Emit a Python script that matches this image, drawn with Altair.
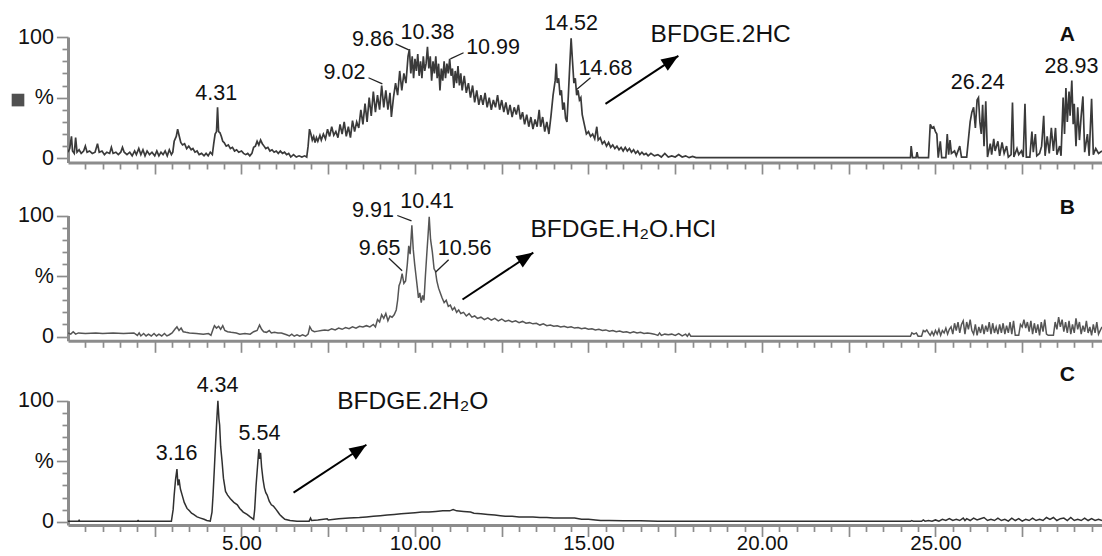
import altair as alt
import pandas as pd

FONT = "Liberation Sans"

# ---- chromatogram traces: (retention time [min], relative intensity [%]) ----
trace_A = [
(0.00,5),(0.05,8),(0.10,18),(0.13,6),(0.18,4),(0.22,17),(0.26,5),(0.32,7),(0.38,4),(0.45,6),(0.50,10),(0.55,5),(0.62,6),(0.70,4),(0.78,5),(0.85,12),(0.90,5),(0.98,6),(1.05,3),(1.12,5),(1.20,4),(1.25,9),(1.30,4),(1.38,5),(1.45,3),(1.52,5),(1.57,9),(1.62,5),(1.70,3),(1.78,5),(1.85,2),(1.92,6),(1.97,3),(2.04,8),(2.10,3),(2.16,7),(2.22,2),(2.28,6),(2.35,3),(2.42,5),(2.50,2),(2.56,6),(2.62,2),(2.68,5),(2.74,3),(2.80,6),(2.86,2),(2.92,7),(2.98,3),(3.02,5),(3.06,14),(3.12,18),(3.16,24),(3.20,19),(3.25,13),(3.30,11),(3.36,12),(3.42,8),(3.48,10),(3.55,7),(3.60,8),(3.66,5),(3.72,6),(3.78,3),(3.85,4),(3.92,2),(3.98,4),(4.04,2),(4.10,5),(4.16,3),(4.20,12),(4.24,20),(4.28,22),(4.31,42),(4.34,22),(4.38,21),(4.42,18),(4.46,14),(4.50,13),(4.56,10),(4.62,11),(4.68,8),(4.74,9),(4.80,6),(4.86,7),(4.92,5),(5.00,6),(5.06,4),(5.12,3),(5.18,4),(5.24,2),(5.30,4),(5.35,9),(5.40,10),(5.45,14),(5.50,11),(5.55,15),(5.60,12),(5.65,10),(5.70,8),(5.76,9),(5.82,6),(5.88,7),(5.94,5),(6.00,6),(6.06,4),(6.12,6),(6.18,4),(6.24,5),(6.30,3),(6.36,4),(6.42,1),(6.50,3),(6.58,1),(6.66,2),(6.74,1),(6.82,2),(6.88,1),
(6.92,10),(6.96,24),(7.00,20),(7.04,15),(7.08,18),(7.12,13),(7.16,17),(7.20,14),(7.26,19),(7.30,15),(7.36,20),(7.42,16),(7.48,24),(7.54,18),(7.60,26),(7.66,19),(7.72,22),(7.78,17),(7.84,28),(7.90,20),(7.96,30),(8.02,18),(8.08,26),(8.14,17),(8.20,31),(8.26,22),(8.32,30),(8.38,25),(8.44,40),(8.50,28),(8.56,45),(8.62,30),(8.68,50),(8.74,35),(8.80,55),(8.86,38),(8.92,52),(8.98,40),(9.04,60),(9.10,42),(9.16,56),(9.22,40),(9.28,54),(9.32,34),(9.38,50),(9.44,62),(9.50,52),(9.56,72),(9.62,56),(9.68,70),(9.74,62),(9.80,84),(9.84,90),(9.88,70),(9.92,84),(9.96,66),(10.00,82),(10.04,72),(10.08,86),(10.12,68),(10.16,80),(10.20,66),(10.24,84),(10.28,72),(10.32,78),(10.36,92),(10.40,74),(10.44,84),(10.48,64),(10.52,80),(10.56,70),(10.60,84),(10.64,66),(10.68,78),(10.72,56),(10.76,74),(10.80,64),(10.84,80),(10.88,66),(10.92,78),(10.96,70),(11.00,82),(11.04,68),(11.08,74),(11.12,58),(11.16,72),(11.20,62),(11.24,76),(11.28,60),(11.32,70),(11.36,56),(11.42,68),(11.48,54),(11.54,62),(11.60,50),(11.66,60),(11.72,46),(11.78,56),(11.84,44),(11.90,52),(11.96,44),(12.02,54),(12.08,42),(12.14,50),(12.20,40),(12.26,48),(12.32,42),(12.38,52),(12.44,40),(12.50,48),(12.56,38),(12.62,46),(12.68,36),(12.74,44),(12.80,34),(12.86,42),(12.92,36),(12.98,44),(13.04,32),(13.10,38),(13.16,28),(13.22,36),(13.28,26),(13.34,34),(13.40,24),(13.46,32),(13.52,26),(13.58,40),(13.62,26),(13.68,34),(13.74,22),(13.80,30),(13.86,20),(13.92,35),(13.98,52),(14.04,64),(14.07,78),(14.10,62),(14.14,66),(14.18,52),(14.22,56),(14.26,40),(14.30,46),(14.34,33),(14.38,30),(14.42,52),(14.46,76),(14.50,99),(14.54,80),(14.58,62),(14.62,66),(14.66,52),(14.70,56),(14.74,48),(14.78,50),(14.82,36),(14.88,28),(14.94,20),(15.00,22),(15.06,18),(15.12,20),(15.18,16),(15.24,26),(15.28,15),(15.34,17),(15.40,12),(15.46,14),(15.52,10),(15.58,13),(15.64,9),(15.70,11),(15.76,8),(15.82,10),(15.88,7),(15.94,9),(16.00,6),(16.06,9),(16.12,6),(16.18,8),(16.24,5),(16.30,7),(16.36,4),(16.42,6),(16.48,3),(16.54,5),(16.60,3),(16.66,4),(16.72,2),(16.80,4),(16.90,2),(17.00,3),(17.10,1),(17.20,4),(17.30,1),(17.40,2),(17.50,1),(17.60,3),(17.70,1),(17.80,2),(17.90,0.5),(18.00,1.5),(18.10,0.5),(24.00,0.5),(24.28,0.5),(24.30,10),(24.34,0.5),(24.44,0.5),(24.47,5),(24.50,0.5),(24.80,0.5),(24.85,28),(24.90,25),(24.95,26),(25.00,22),(25.04,20),(25.08,0.5),(25.14,14),(25.18,0.5),(25.30,0.5),(25.34,20),(25.38,3),(25.42,15),(25.46,4),(25.55,6),(25.60,2),(25.70,10),(25.75,1),(25.90,1),(26.00,30),(26.05,38),(26.10,42),(26.15,25),(26.20,48),(26.24,50),(26.28,30),(26.32,20),(26.36,44),(26.40,10),(26.45,47),(26.50,1),(26.58,12),(26.62,3),(26.68,16),(26.72,6),(26.80,14),(26.85,2),(26.92,13),(26.98,4),(27.05,10),(27.10,1),(27.18,3),(27.22,46),(27.26,1),(27.35,8),(27.40,3),(27.48,6),(27.53,1),(27.58,45),(27.62,1),(27.72,1),(27.78,22),(27.82,5),(27.88,20),(27.92,2),(28.00,4),(28.06,10),(28.12,35),(28.16,2),(28.22,18),(28.28,4),(28.34,25),(28.40,6),(28.46,25),(28.50,3),(28.58,10),(28.62,2),(28.68,50),(28.72,20),(28.76,58),(28.80,30),(28.85,55),(28.88,35),(28.93,64),(28.97,28),(29.00,45),(29.05,10),(29.10,42),(29.15,15),(29.20,35),(29.25,51),(29.30,5),(29.38,20),(29.43,2),(29.50,49),(29.55,3),(29.62,8),(29.70,4),(29.80,6),
]

trace_B = [
(0.00,3),(0.08,2),(0.15,4),(0.22,2),(0.30,3),(0.50,2.5),(0.80,3),(1.00,2.5),(1.30,3),(1.60,2.5),(1.90,3),(2.00,1),(2.05,3),(2.10,0.5),(2.18,2.5),(2.25,0.5),(2.32,2),(2.40,0.5),(2.48,2.5),(2.55,0.5),(2.62,2),(2.70,0.5),(2.78,2.5),(2.85,0.5),(2.92,1.5),(3.00,3),(3.08,6),(3.14,8),(3.20,5),(3.26,7),(3.32,4),(3.40,3.5),(3.50,3),(3.70,2.5),(3.90,2),(4.05,2.5),(4.12,1),(4.18,6),(4.22,9),(4.28,7),(4.34,8.5),(4.40,6),(4.46,9),(4.52,5),(4.60,4),(4.70,3.5),(4.85,3),(4.95,2),(5.10,2.5),(5.25,2),(5.35,4),(5.45,5),(5.52,9.5),(5.58,6),(5.64,4),(5.72,3.5),(5.80,5),(5.86,3),(5.95,3.5),(6.05,3),(6.15,3),(6.30,1.5),(6.38,0.5),(6.45,2),(6.52,0.3),(6.60,1.5),(6.68,0.3),(6.76,1.5),(6.85,0.3),(6.92,2),(6.97,8),(7.03,5),(7.10,4),(7.20,4.5),(7.30,5),(7.40,5.5),(7.50,5),(7.60,6.5),(7.70,5.5),(7.80,7),(7.90,6),(8.00,7.5),(8.10,6.5),(8.20,8),(8.30,7),(8.40,8.5),(8.50,8),(8.60,9),(8.70,8),(8.80,10),(8.86,8),(8.92,14),(8.98,12),(9.04,18),(9.10,15),(9.16,19),(9.22,13),(9.28,17),(9.34,16),(9.40,18),(9.46,22),(9.50,30),(9.54,42),(9.58,45),(9.63,52),(9.68,44),(9.73,46),(9.78,60),(9.82,75),(9.86,68),(9.91,92),(9.95,72),(9.99,60),(10.03,50),(10.07,40),(10.10,32),(10.14,36),(10.18,28),(10.22,34),(10.26,30),(10.30,50),(10.34,68),(10.38,85),(10.41,99),(10.45,80),(10.50,70),(10.55,56),(10.59,54),(10.63,46),(10.68,40),(10.73,36),(10.78,32),(10.84,28),(10.90,30),(10.96,25),(11.02,26),(11.08,22),(11.14,24),(11.20,20),(11.26,22),(11.32,19),(11.40,20),(11.48,17),(11.56,19),(11.64,16),(11.72,17),(11.80,15),(11.90,16),(12.00,14),(12.10,15.5),(12.20,13.5),(12.30,15),(12.40,13),(12.50,14.5),(12.60,12.5),(12.70,13.5),(12.80,12),(12.90,13),(13.00,11.5),(13.10,12.5),(13.20,11),(13.30,11.5),(13.40,10.5),(13.50,11),(13.60,9.5),(13.70,10.5),(13.80,9),(13.90,9.5),(14.00,8.5),(14.10,9),(14.20,8),(14.30,8.5),(14.40,7.5),(14.50,8),(14.60,7),(14.70,7.5),(14.80,6.5),(14.90,7),(15.00,6),(15.10,6.5),(15.20,5.5),(15.30,6),(15.40,5),(15.50,5.5),(15.60,4.5),(15.70,5),(15.80,4),(15.90,4.5),(16.00,3.5),(16.10,4),(16.20,3),(16.30,4),(16.40,3),(16.50,3.5),(16.60,2.5),(16.70,3),(16.80,2.5),(16.90,2),(17.00,1),(17.05,3),(17.10,1),(17.20,2),(17.30,1.5),(17.40,2),(17.50,1),(17.60,2.5),(17.70,0.5),(17.80,2),(17.85,0.3),(17.90,2.5),(17.95,0.3),(18.00,0.3),(24.28,0.3),(24.32,3),(24.38,2),(24.45,3),(24.50,0.3),(24.60,0.3),(24.65,5),(24.70,4),(24.75,5.5),(24.80,3),(24.85,1),(24.90,4),(24.95,1),(25.00,5),(25.05,2),(25.10,6),(25.15,1),(25.20,5),(25.25,3),(25.30,7),(25.35,2),(25.40,6),(25.45,8),(25.50,2),(25.55,11),(25.60,5),(25.65,12),(25.70,3),(25.75,10),(25.80,13),(25.85,2),(25.90,12),(25.95,6),(26.00,14),(26.05,5),(26.10,2),(26.15,10),(26.20,1),(26.25,8),(26.30,3),(26.35,10),(26.40,2),(26.45,9),(26.50,4),(26.55,12),(26.60,2),(26.65,11),(26.70,3),(26.75,8),(26.80,2),(26.85,10),(26.90,3),(26.95,11),(27.00,2),(27.05,9),(27.10,3),(27.15,12),(27.20,2),(27.25,13),(27.30,1),(27.40,1),(27.45,10),(27.50,8),(27.55,14),(27.60,7),(27.65,12),(27.70,4),(27.75,13),(27.80,2),(27.85,11),(27.90,3),(27.95,10),(28.00,1),(28.05,12),(28.10,4),(28.15,14),(28.20,2),(28.25,1),(28.40,1),(28.45,12),(28.50,6),(28.55,16),(28.60,8),(28.65,14),(28.70,4),(28.75,12),(28.80,3),(28.85,13),(28.90,2),(28.95,10),(29.00,3),(29.05,15),(29.10,6),(29.15,12),(29.20,2),(29.25,9),(29.30,4),(29.35,13),(29.40,3),(29.45,8),(29.50,1),(29.55,10),(29.60,3),(29.65,12),(29.70,2),(29.80,8),
]

trace_C = [
(0.00,0.5),(0.30,0.5),(0.32,1.2),(0.34,0.5),(2.00,0.5),(2.02,1),(2.04,0.5),(2.98,0.5),(3.03,10),(3.06,22),(3.10,35),(3.14,43.5),(3.17,30),(3.20,35),(3.24,27),(3.29,22),(3.35,16),(3.43,11),(3.50,9),(3.56,7),(3.62,6),(3.72,4),(3.82,3),(3.92,2),(4.00,1),(4.10,0.5),(4.15,8),(4.18,22),(4.22,45),(4.25,63),(4.29,85),(4.32,100),(4.35,85),(4.37,80),(4.40,62),(4.44,50),(4.48,36),(4.54,25),(4.60,22),(4.68,19),(4.78,16),(4.88,14),(4.95,11),(5.05,8),(5.16,6),(5.25,4),(5.35,2),(5.38,10),(5.42,30),(5.46,45),(5.50,60),(5.52,52),(5.55,57),(5.58,45),(5.62,35),(5.66,28),(5.70,24),(5.74,22),(5.80,17),(5.86,14),(5.92,13),(6.00,10),(6.05,8),(6.10,6),(6.17,4),(6.25,2),(6.40,1),(6.60,0.3),(6.80,0.5),(6.95,0.5),(6.99,3),(7.02,1),(7.20,1.5),(7.47,2.5),(7.50,1.5),(7.80,2.5),(8.10,3),(8.40,3.5),(8.60,4),(8.80,4.5),(9.00,5),(9.20,5.5),(9.40,6),(9.60,6.5),(9.80,7),(10.00,7.5),(10.20,8),(10.40,8),(10.60,8.5),(10.80,9),(11.00,9),(11.10,10),(11.20,9),(11.40,8.5),(11.60,8),(11.70,7),(11.90,6.5),(12.10,6),(12.30,5.5),(12.46,5),(12.60,4.5),(12.80,4.5),(13.00,4),(13.20,4),(13.40,4),(13.60,3.5),(13.80,3.5),(14.00,3),(14.30,3),(14.60,3),(14.80,2),(15.00,2),(15.20,1.5),(15.35,1),(15.60,1),(16.00,0.8),(16.50,0.8),(17.00,0.5),(17.55,0.3),(24.28,0.3),(24.32,1),(24.36,0.3),(24.60,0.3),(24.65,1.5),(24.70,0.5),(24.80,1),(24.90,0.5),(25.00,1.5),(25.10,0.5),(25.20,2),(25.30,1),(25.40,2.5),(25.50,1),(25.60,2),(25.70,1),(25.80,3),(25.85,1),(25.90,2.5),(26.00,1),(26.10,3),(26.20,1.5),(26.30,2.5),(26.40,3.5),(26.50,1),(26.60,2),(26.70,1),(26.80,3),(26.90,1),(27.00,2),(27.10,0.5),(27.20,3),(27.30,1),(27.40,2.5),(27.50,0.5),(27.60,2),(27.70,1),(27.80,3),(27.90,1),(28.00,2),(28.10,1),(28.20,3.5),(28.30,2),(28.40,3.5),(28.50,1),(28.60,2.5),(28.70,3),(28.80,1),(28.90,3.5),(29.00,1),(29.10,2),(29.20,1),(29.30,3),(29.40,1),(29.50,2.5),(29.60,1),(29.70,2),(29.80,1),
]

# ---- annotations (label, time, intensity) ----
peaks_A = [("4.31",4.27,53),("9.02",7.97,70),("9.86",8.79,97.7),("10.38",10.36,103),("10.99",12.25,90.7),
           ("14.52",14.50,111),("14.68",15.49,74),("26.24",26.22,62),("28.93",28.92,75.4)]
peaks_B = [("9.91",8.79,104),("10.41",10.35,111),("9.65",8.98,72.3),("10.56",11.43,72.3)]
peaks_C = [("3.16",3.13,55.8),("4.34",4.31,112.4),("5.54",5.52,72.3)]

leaders_A = [(8.66,66.4,9.06,61.4),(9.44,94.4,9.82,89.4),(11.40,87,11.02,82),(15.06,66.4,14.65,56.5)]
leaders_B = [(9.49,100,9.90,95.6),(9.25,64.7,9.63,54.3),(10.97,63.4,10.59,53.1)]
leaders_C = []

compounds = {"A": ("BFDGE.2HC",16.79,101.8), "B": ("BFDGE.H\u2082O.HCl",13.33,88.4), "C": ("BFDGE.2H\u2082O",7.76,99.2)}
arrows = {"A": (15.49,44.9,17.59,84.5), "B": (11.37,30.6,13.41,69.4), "C": (6.50,24,8.60,63.6)}
letters = {"A": (28.80,101.8), "B": (28.80,106.6), "C": (28.80,121.5)}

X_MAX = 29.8
PLOT_W = 1034
x_ticks = [i * 0.5 for i in range(1, 60)]
y_ticks = list(range(0, 101, 10))

AXIS_GRAY = "#8c8c8c"
TXT = "#111111"


def panel(key, trace, peaks, leaders, ydom, yrange, height, show_xlabels, color, lw, square=False):
    xs = alt.Scale(domain=[0, X_MAX], nice=False, zero=False)
    ys = alt.Scale(domain=ydom, range=yrange, nice=False, zero=False)
    x_axis = alt.Axis(
        values=x_ticks, tickSize=11.5, tickWidth=1.7, tickColor=AXIS_GRAY,
        tickDash={"condition": {"test": "datum.value % 2.5 !== 0", "value": [6.5, 40]}, "value": [40, 0]},
        domainColor=AXIS_GRAY, domainWidth=3, labels=show_xlabels, labelOverlap=False,
        labelExpr="datum.value % 5 === 0 ? format(datum.value, '.2f') : ''",
        labelFont=FONT, labelFontSize=20.5, labelColor=TXT, labelPadding=-3, title=None, grid=False)
    y_axis = alt.Axis(
        values=y_ticks, tickSize=11.6, tickWidth=1.7, tickColor=AXIS_GRAY,
        tickDash={"condition": {"test": "datum.value % 50 !== 0", "value": [6, 40]}, "value": [40, 0]},
        domainColor=AXIS_GRAY, domainWidth=3, labelOverlap=False,
        labelExpr="datum.value == 100 ? '100' : datum.value == 50 ? '%' : datum.value == 0 ? '0' : ''",
        labelFont=FONT, labelFontSize=21.5, labelColor=TXT, labelPadding=3, title=None, grid=False)

    def X(f):
        return alt.X(f, scale=xs, axis=x_axis)

    def Y(f):
        return alt.Y(f, scale=ys, axis=y_axis)

    df = pd.DataFrame(trace, columns=["t", "v"])
    line = alt.Chart(df).mark_line(color=color, strokeWidth=lw, clip=True).encode(x=X("t:Q"), y=Y("v:Q"))
    layers = [line]

    pdf = pd.DataFrame(peaks, columns=["lab", "t", "v"])
    layers.append(alt.Chart(pdf).mark_text(font=FONT, fontSize=21.5, color=TXT, align="center", baseline="middle").encode(
        x=X("t:Q"), y=Y("v:Q"), text="lab:N"))

    if leaders:
        ldf = pd.DataFrame(leaders, columns=["t1", "v1", "t2", "v2"])
        layers.append(alt.Chart(ldf).mark_rule(color="#222222", strokeWidth=1.3).encode(
            x=X("t1:Q"), y=Y("v1:Q"), x2="t2:Q", y2="v2:Q"))

    name, ct, cv = compounds[key]
    cdf = pd.DataFrame([{"lab": name, "t": ct, "v": cv}])
    layers.append(alt.Chart(cdf).mark_text(font=FONT, fontSize=24.5, color=TXT, align="left", baseline="middle").encode(
        x=X("t:Q"), y=Y("v:Q"), text="lab:N"))

    a = arrows[key]
    adf = pd.DataFrame([{"t1": a[0], "v1": a[1], "t2": a[2], "v2": a[3]}])
    layers.append(alt.Chart(adf).mark_rule(color="black", strokeWidth=2).encode(
        x=X("t1:Q"), y=Y("v1:Q"), x2="t2:Q", y2="v2:Q"))
    layers.append(alt.Chart(adf).mark_point(shape="M0,0 L-2,-0.78 L-2,0.78 Z", filled=True, size=289,
                                            angle=326.6, color="black", opacity=1, strokeWidth=0).encode(
        x=X("t2:Q"), y=Y("v2:Q")))

    lt, lv = letters[key]
    ldf2 = pd.DataFrame([{"lab": key, "t": lt, "v": lv}])
    layers.append(alt.Chart(ldf2).mark_text(font=FONT, fontSize=21, fontWeight="bold", color=TXT,
                                            align="center", baseline="middle").encode(
        x=X("t:Q"), y=Y("v:Q"), text="lab:N"))

    if square:
        sdf = pd.DataFrame([{"v": 48}])
        layers.append(alt.Chart(sdf).mark_square(size=160, color="#505050", opacity=1).encode(
            x=alt.value(-50), y=Y("v:Q")))

    return alt.layer(*layers).properties(width=PLOT_W, height=height)


pA = panel("A", trace_A, peaks_A, leaders_A, [-3.5, 100], [125.5, 0], 125.5, False, "#3a3a3a", 1.7, square=True)
pB = panel("B", trace_B, peaks_B, leaders_B, [-3.5, 100], [177.8, 52.5], 177.8, False, "#555555", 1.5)
pC = panel("C", trace_C, peaks_C, leaders_C, [-2.7, 100], [184, 59.7], 184, True, "#303030", 1.5)

chart = alt.vconcat(pA, pB, pC, spacing=0, bounds="flush").properties(
    padding={"left": 11, "top": 12, "right": 0, "bottom": 0}
).configure_view(stroke=None)

chart.save("out.html", embed_options={"renderer": "svg", "actions": False})
